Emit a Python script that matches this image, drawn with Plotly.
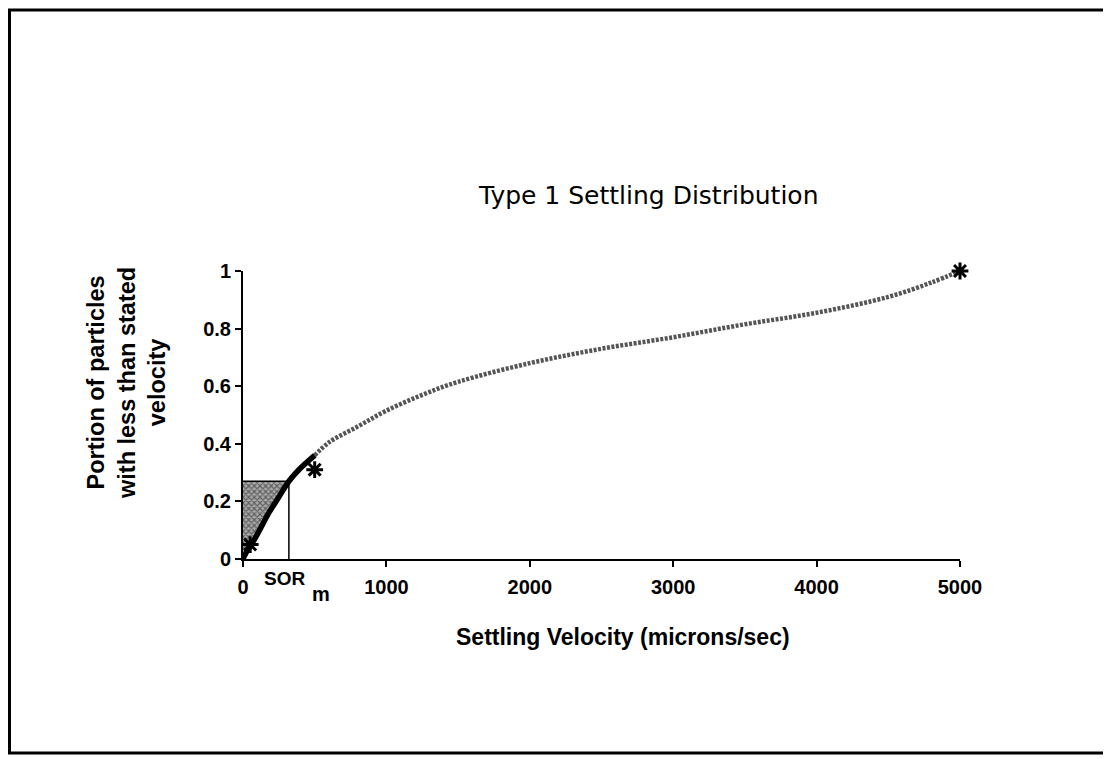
import plotly.graph_objects as go

# ---- data ----
black_x = [0, 20, 90, 180, 250, 320, 400, 500]
black_y = [0, 0.02, 0.077, 0.16, 0.215, 0.27, 0.315, 0.36]

grey_x = [500, 600, 800, 1000, 1250, 1500, 2000, 2500, 3000, 3500, 4000, 4500, 4800, 5000]
grey_y = [0.36, 0.405, 0.46, 0.515, 0.57, 0.615, 0.68, 0.73, 0.77, 0.815, 0.855, 0.91, 0.96, 1.0]

marker_x = [50, 500, 5000]
marker_y = [0.05, 0.31, 1.0]

sor_x = 320
sor_y = 0.27

x_ticks = [0, 1000, 2000, 3000, 4000, 5000]
y_ticks = [0, 0.2, 0.4, 0.6, 0.8, 1]
y_tick_labels = ["0", "0.2", "0.4", "0.6", "0.8", "1"]

title_text = "Type 1 Settling Distribution"
x_title = "Settling Velocity (microns/sec)"
y_title = "Portion of particles<br>with less than stated<br>velocity"

# ---- figure ----
OFF = 8  # page body margin (screen = figure + OFF)
W, H = 1111 - OFF, 759 - OFF
# plot area in screen pixels: x 243..960, y 271..559
SX0, SX1, SY0, SY1 = 243, 960, 271, 559
L, R, T, B = SX0 - OFF, W - (SX1 - OFF), SY0 - OFF, H - (SY1 - OFF)
pw, ph = SX1 - SX0, SY1 - SY0

BOLD = "Liberation Sans, Arial"
TFONT = "DejaVu Sans, Liberation Sans"

fig = go.Figure()

# shaded region between y-axis, curve and SOR level
sh_x = [x for x, y in zip(black_x, black_y) if x <= sor_x] + [0, 0]
sh_y = [y for x, y in zip(black_x, black_y) if x <= sor_x] + [sor_y, 0]
fig.add_trace(go.Scatter(
    x=sh_x, y=sh_y, mode="lines", fill="toself",
    line=dict(width=0, color="black"),
    fillcolor="rgba(255,255,255,0)",
    fillpattern=dict(shape="x", size=4, solidity=0.5, fgcolor="#111", bgcolor="#aaa"),
    hoverinfo="skip", showlegend=False))

# SOR lines
fig.add_trace(go.Scatter(
    x=[0, sor_x, sor_x], y=[sor_y, sor_y, 0], mode="lines",
    line=dict(color="black", width=1.5), showlegend=False, hoverinfo="skip"))

# grey textured curve
fig.add_trace(go.Scatter(
    x=grey_x, y=grey_y, mode="lines",
    line=dict(color="#555", width=4.5, dash="3px,1.5px", shape="spline"),
    showlegend=False))

# black thick curve
fig.add_trace(go.Scatter(
    x=black_x, y=black_y, mode="lines", line=dict(color="black", width=5.5, shape="spline"),
    showlegend=False))

# markers
fig.add_trace(go.Scatter(
    x=marker_x, y=marker_y, mode="markers",
    marker=dict(symbol="asterisk-open", size=14, color="black", line=dict(color="black", width=3)),
    showlegend=False, cliponaxis=False))

axis_font = dict(family=BOLD, size=20, color="black", weight="bold")

fig.update_xaxes(range=[0, 5000], tickvals=x_ticks, ticktext=[str(v) for v in x_ticks],
                 showgrid=False, zeroline=False, showline=True, linecolor="black", linewidth=2,
                 ticks="outside", ticklen=6, tickwidth=2, tickcolor="black",
                 tickfont=axis_font, ticklabelstandoff=3)
fig.update_yaxes(range=[0, 1], tickvals=y_ticks, ticktext=y_tick_labels,
                 showgrid=False, zeroline=False, showline=True, linecolor="black", linewidth=2,
                 ticks="outside", ticklen=6, tickwidth=2, tickcolor="black",
                 tickfont=axis_font)


def px2paper_x(px):
    return (px - SX0) / pw


def px2paper_y(py):
    return (SY1 - py) / ph


annotations = [
    dict(text=title_text, x=px2paper_x(648), y=px2paper_y(196), xref="paper", yref="paper",
         showarrow=False, font=dict(family=TFONT, size=25, color="black"),
         xanchor="center", yanchor="middle"),
    dict(text=x_title, x=px2paper_x(623), y=px2paper_y(637), xref="paper", yref="paper",
         showarrow=False, font=dict(family=BOLD, size=23, color="black", weight="bold"),
         xanchor="center", yanchor="middle"),
    dict(text=y_title, x=px2paper_x(126), y=px2paper_y(383), xref="paper", yref="paper",
         showarrow=False, textangle=-90,
         font=dict(family=BOLD, size=23.5, color="black", weight="bold"),
         xanchor="center", yanchor="middle"),
    dict(text="SOR", x=px2paper_x(284), y=px2paper_y(578), xref="paper", yref="paper",
         showarrow=False, font=dict(family=BOLD, size=19, color="black", weight="bold"),
         xanchor="center", yanchor="middle"),
    dict(text="m", x=px2paper_x(321), y=px2paper_y(594), xref="paper", yref="paper",
         showarrow=False, font=dict(family=BOLD, size=20, color="black", weight="bold"),
         xanchor="center", yanchor="middle"),
]

# outer frame (screen 9.5..1107 x 10..753)
shapes = [
    dict(type="rect", xref="paper", yref="paper",
         x0=px2paper_x(OFF + 1.5), x1=px2paper_x(1107), y0=px2paper_y(753), y1=px2paper_y(OFF + 2),
         line=dict(color="black", width=3), fillcolor="rgba(0,0,0,0)", layer="below"),
]

fig.update_layout(width=W, height=H, margin=dict(l=L, r=R, t=T, b=B),
                  plot_bgcolor="white", paper_bgcolor="white",
                  annotations=annotations, shapes=shapes, showlegend=False)

fig.write_html("out.html")
